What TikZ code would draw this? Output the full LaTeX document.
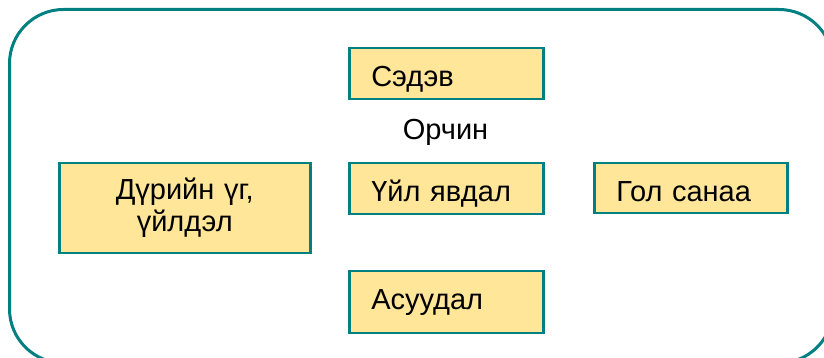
\documentclass[tikz,border=0pt]{standalone}
\usepackage{fontspec}
\setmainfont{Liberation Sans}
\definecolor{frameTeal}{RGB}{0,128,128}
\definecolor{boxYellow}{RGB}{255,230,153}

\begin{document}
\begin{tikzpicture}
[x=1pt,y=1pt,
  boxDecorate/.style={draw=frameTeal,fill=boxYellow,line width=2.5pt,
    inner xsep=22pt,inner ysep=0pt,anchor=north west,
    font=\fontsize{29}{32}\selectfont},
  topText/.style={text height=38pt,text depth=#1,align=left},
  frameDecorate/.style={draw=frameTeal,line width=3pt,rounded corners=54pt}]
\useasboundingbox (0,0) rectangle (824,358);
%% outer frame
\draw[frameDecorate] (9.5,348.5) rectangle (833,-5);
%% boxes
\foreach \nodename/\x/\y/\boxw/\boxd/\txt in {
  sedev/348/311/150/13/Сэдэв, uil/348/196/150/13/Үйл явдал,
  gol/593/196/149/12/Гол санаа, asuudal/348/88/150/24/Асуудал}
{
  \node (\nodename) at (\x,\y) [boxDecorate,topText=\boxd pt,text width=\boxw pt] {\txt};
}
\node (durs) at (58,196) [boxDecorate,text width=207pt,minimum height=90pt,align=center] {Дүрийн үг,\\ үйлдэл};
%% label
\node (orchin) at (445.5,218) [anchor=base,font=\fontsize{29}{32}\selectfont] {Орчин};
\end{tikzpicture}
\end{document}
